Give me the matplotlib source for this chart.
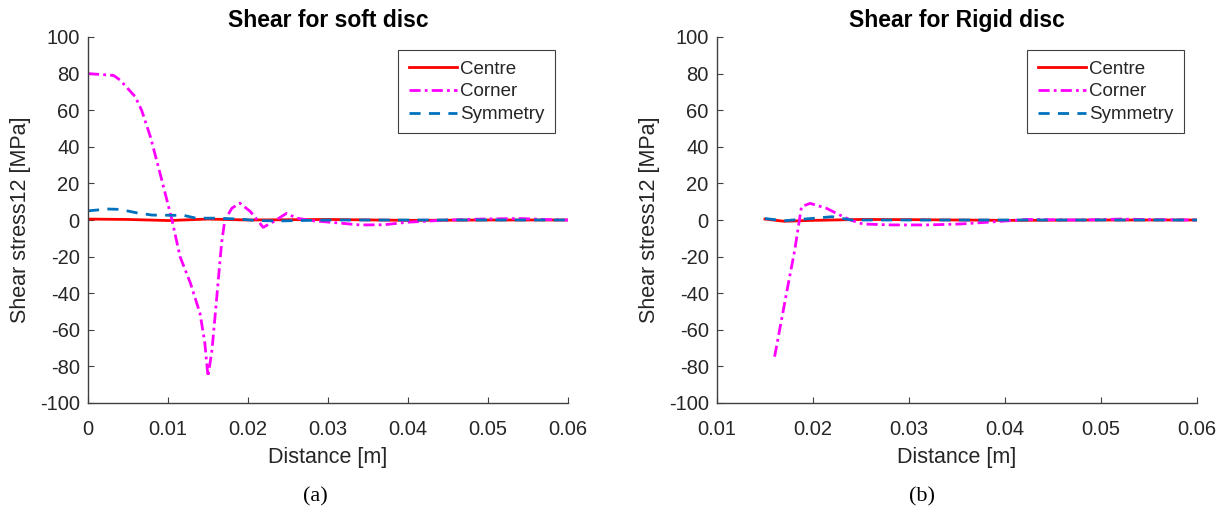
import matplotlib
matplotlib.use("Agg")
import matplotlib.pyplot as plt

plt.rcParams['font.family'] = ['Liberation Sans', 'DejaVu Sans']
plt.rcParams['axes.unicode_minus'] = False

# soft disc: distance [m] and shear stress12 [MPa]
soft_centre_x = [0.0, 0.005, 0.010, 0.015, 0.020, 0.030, 0.040, 0.050, 0.060]
soft_centre_y = [0.5, 0.3, -0.3, 0.5, 0.0, 0.3, -0.2, 0.0, 0.0]

soft_corner_x = [0.0, 0.0032, 0.0040, 0.0059, 0.0067, 0.0078, 0.0090, 0.0105,
                 0.0115, 0.0128, 0.0140, 0.0146, 0.0150, 0.0155, 0.0161, 0.0167,
                 0.0171, 0.0180, 0.0190, 0.0203, 0.0219, 0.0232, 0.0248, 0.0261,
                 0.0281, 0.0310, 0.0340, 0.0370, 0.0400, 0.0450, 0.0500, 0.0540,
                 0.0570, 0.0600]
soft_corner_y = [80.0, 79.0, 76.5, 67.4, 60.0, 45.5, 25.6, 0.0,
                 -20.0, -34.5, -51.0, -67.0, -85.6, -71.0, -42.0, -12.6,
                 0.0, 6.5, 9.2, 4.6, -4.0, -0.9, 3.6, 1.0,
                 -0.4, -1.5, -2.7, -2.6, -1.2, 0.0, 0.6, 0.8,
                 0.3, 0.0]

soft_sym_x = [0.0, 0.0025, 0.0040, 0.0060, 0.0080, 0.0120, 0.0135, 0.0160,
              0.0190, 0.0210, 0.0240, 0.0300, 0.0600]
soft_sym_y = [5.0, 6.0, 5.8, 4.0, 2.7, 2.5, 1.0, 1.0,
              0.5, -0.3, -0.5, 0.0, 0.0]

# rigid disc
rigid_centre_x = [0.015, 0.017, 0.020, 0.025, 0.030, 0.040, 0.050, 0.060]
rigid_centre_y = [0.5, -0.7, -0.2, 0.3, 0.2, -0.2, 0.0, 0.0]

rigid_corner_x = [0.0160, 0.0173, 0.0181, 0.0188, 0.0197, 0.0214, 0.0228, 0.0239,
                  0.0252, 0.0283, 0.0318, 0.0353, 0.0388, 0.0423, 0.0480, 0.0520,
                  0.0560, 0.0600]
rigid_corner_y = [-74.7, -38.3, -16.4, 7.3, 9.1, 6.4, 2.7, 0.0,
                  -2.2, -2.7, -2.7, -2.2, -1.0, 0.3, 0.0, 0.5,
                  0.2, 0.0]

rigid_sym_x = [0.0150, 0.0170, 0.0200, 0.0220, 0.0240, 0.0300, 0.0600]
rigid_sym_y = [0.8, -0.4, 0.9, 1.8, 0.0, 0.0, 0.0]

titles = ['Shear for soft disc', 'Shear for Rigid disc']
captions = ['(a)', '(b)']

TXT = '#262626'
AX = '#404040'

fig = plt.figure(figsize=(12.26, 5.13), dpi=100)
ax1 = fig.add_axes([88 / 1226, 110 / 513, 480 / 1226, 366 / 513])
ax2 = fig.add_axes([717 / 1226, 110 / 513, 480 / 1226, 366 / 513])

series = [
    (ax1, soft_centre_x, soft_centre_y, soft_corner_x, soft_corner_y, soft_sym_x, soft_sym_y),
    (ax2, rigid_centre_x, rigid_centre_y, rigid_corner_x, rigid_corner_y, rigid_sym_x, rigid_sym_y),
]

for i, (ax, cx, cy, kx, ky, sx, sy) in enumerate(series):
    ax.plot(cx, cy, color='#ff0000', lw=2, label='Centre')
    ax.plot(kx, ky, color='#ff00ff', lw=2, linestyle=(0, (4, 1.5, 1, 1.5)), label='Corner')
    ax.plot(sx, sy, color='#0072bd', lw=2, linestyle=(0, (4, 3)), label='Symmetry')

    ax.set_ylim(-100, 100)
    ax.set_yticks(range(-100, 101, 20))
    if i == 0:
        ax.set_xlim(0, 0.06)
        ax.set_xticks([0, 0.01, 0.02, 0.03, 0.04, 0.05, 0.06])
        ax.set_xticklabels(['0', '0.01', '0.02', '0.03', '0.04', '0.05', '0.06'])
    else:
        ax.set_xlim(0.01, 0.06)
        ax.set_xticks([0.01, 0.02, 0.03, 0.04, 0.05, 0.06])
        ax.set_xticklabels(['0.01', '0.02', '0.03', '0.04', '0.05', '0.06'])

    for side in ['top', 'right']:
        ax.spines[side].set_visible(False)
    for side in ['left', 'bottom']:
        ax.spines[side].set_color(AX)
        ax.spines[side].set_linewidth(1.0)
    ax.tick_params(axis='both', direction='in', length=4, width=0.8, color=AX,
                   labelsize=14.5, labelcolor=TXT)
    ax.tick_params(axis='x', pad=12)
    ax.tick_params(axis='y', pad=6)

    ax.set_xlabel('Distance [m]', fontsize=15.5, color=TXT, va='center')
    ax.xaxis.set_label_coords(0.5, -0.148)
    ax.set_ylabel('Shear stress12 [MPa]', fontsize=15.5, color=TXT, va='center')
    ax.yaxis.set_label_coords(-0.14, 0.5)
    ax.set_title(titles[i], fontsize=16.5, fontweight='bold', color='black', pad=7)

    leg = ax.legend(loc='upper right', fontsize=13.5, frameon=True, fancybox=False,
                    edgecolor=AX, framealpha=1, borderaxespad=0.7,
                    handlelength=2.6, handletextpad=0.15, labelspacing=0.3,
                    borderpad=0.55)
    leg.get_frame().set_linewidth(0.8)
    for t in leg.get_texts():
        t.set_color(TXT)

fig.text(315 / 1226, 1 - 497 / 513, captions[0], fontsize=16, family='Liberation Serif',
         ha='center', va='center', color='black')
fig.text(922 / 1226, 1 - 497 / 513, captions[1], fontsize=16, family='Liberation Serif',
         ha='center', va='center', color='black')

fig.savefig('out.png', dpi=100)
